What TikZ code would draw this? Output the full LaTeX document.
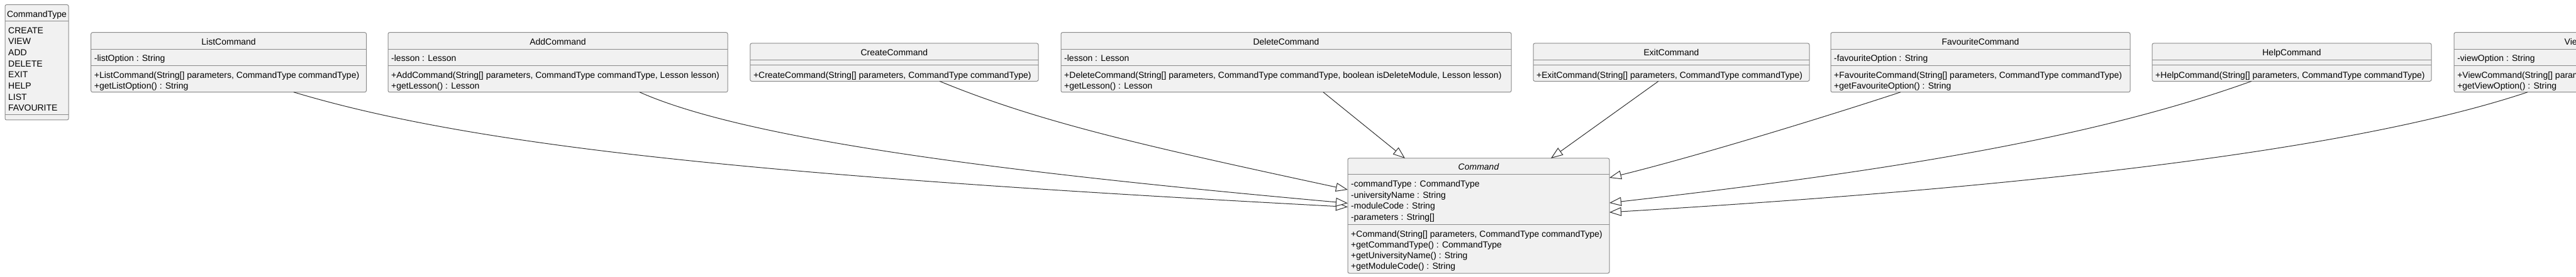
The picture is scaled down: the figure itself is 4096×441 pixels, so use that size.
\documentclass[tikz,border=0pt]{standalone}
\usepackage{fontspec}
\setmainfont{Liberation Sans}
\usetikzlibrary{arrows.meta}
\definecolor{boxfill}{HTML}{F1F1F1}
\definecolor{boxline}{HTML}{8A8A8A}
\definecolor{conn}{HTML}{303030}
\newcommand\umlfont{\fontsize{14bp}{17bp}\selectfont}
\begin{document}
\begin{tikzpicture}[x=1bp,y=-1bp,
  cbox/.style={draw=boxline, fill=boxfill, line width=1bp, rounded corners=2.5bp, inner sep=0pt, outer sep=0pt, anchor=north west},
  sepline/.style={draw=boxline, line width=1bp},
  txt/.style={anchor=base west, inner sep=0pt, font=\umlfont},
  ttl/.style={anchor=base, inner sep=0pt, font=\umlfont},
  gen/.style={draw=conn, line width=1bp, -{Triangle[length=19bp,width=14bp,fill=white]}}
]
\useasboundingbox (0,0) rectangle (4096,441);
\clip (0,0) rectangle (4096,441);

% ---------- CommandType ----------
\node[cbox, minimum width=101bp, minimum height=183.5bp] (ct) at (8,7.5) {};
\node[ttl] (ct-t) at (58.5,27.7) {CommandType};
\draw[sepline] (8,34) -- ++(101,0);
\node[txt] (ct-1) at (13,53.3) {CREATE};
\node[txt] (ct-2) at (13,71) {VIEW};
\node[txt] (ct-3) at (13,88.7) {ADD};
\node[txt] (ct-4) at (13,106.3) {DELETE};
\node[txt] (ct-5) at (13,124) {EXIT};
\node[txt] (ct-6) at (13,141.7) {HELP};
\node[txt] (ct-7) at (13,159.3) {LIST};
\node[txt] (ct-8) at (13,177) {FAVOURITE};
\draw[sepline] (8,183) -- ++(101,0);

% ---------- ListCommand ----------
\node[cbox, minimum width=437.8bp, minimum height=95bp] (list) at (144.7,51.7) {};
\node[ttl] (list-t) at (363.6,71.7) {ListCommand};
\draw[sepline] (144.7,78.7) -- ++(437.8,0);
\node[txt] (list-a) at (149.7,97.7) {-listOption : String};
\draw[sepline] (144.7,104.3) -- ++(437.8,0);
\node[txt] (list-m1) at (149.7,124.3) {+ListCommand(String[] parameters, CommandType commandType)};
\node[txt] (list-m2) at (149.7,141.3) {+getListOption() : String};

% ---------- AddCommand ----------
\node[cbox, minimum width=540bp, minimum height=95bp] (add) at (617,51.7) {};
\node[ttl] (add-t) at (887,71.7) {AddCommand};
\draw[sepline] (617,78.7) -- ++(540,0);
\node[txt] (add-a) at (622,97.7) {-lesson : Lesson};
\draw[sepline] (617,104.3) -- ++(540,0);
\node[txt] (add-m1) at (622,124.3) {+AddCommand(String[] parameters, CommandType commandType, Lesson lesson)};
\node[txt] (add-m2) at (622,141.3) {+getLesson() : Lesson};

% ---------- CreateCommand ----------
\node[cbox, minimum width=458.2bp, minimum height=60.3bp] (create) at (1192.8,69) {};
\node[ttl] (create-t) at (1421.9,88.3) {CreateCommand};
\draw[sepline] (1192.8,96) -- ++(458.2,0);
\draw[sepline] (1192.8,104) -- ++(458.2,0);
\node[txt] (create-m1) at (1197.8,125) {+CreateCommand(String[] parameters, CommandType commandType)};

% ---------- DeleteCommand ----------
\node[cbox, minimum width=716bp, minimum height=95bp] (delete) at (1687,51.7) {};
\node[ttl] (delete-t) at (2045,71.7) {DeleteCommand};
\draw[sepline] (1687,78.7) -- ++(716,0);
\node[txt] (delete-a) at (1692,97.7) {-lesson : Lesson};
\draw[sepline] (1687,104.3) -- ++(716,0);
\node[txt] (delete-m1) at (1692,124.3) {+DeleteCommand(String[] parameters, CommandType commandType, boolean isDeleteModule, Lesson lesson)};
\node[txt] (delete-m2) at (1692,141.3) {+getLesson() : Lesson};

% ---------- ExitCommand ----------
\node[cbox, minimum width=439bp, minimum height=60.3bp] (exit) at (2438,69) {};
\node[ttl] (exit-t) at (2657.5,88.3) {ExitCommand};
\draw[sepline] (2438,96) -- ++(439,0);
\draw[sepline] (2438,104) -- ++(439,0);
\node[txt] (exit-m1) at (2443,125) {+ExitCommand(String[] parameters, CommandType commandType)};

% ---------- FavouriteCommand ----------
\node[cbox, minimum width=476bp, minimum height=95bp] (fav) at (2911,51.7) {};
\node[ttl] (fav-t) at (3149,71.7) {FavouriteCommand};
\draw[sepline] (2911,78.7) -- ++(476,0);
\node[txt] (fav-a) at (2916,97.7) {-favouriteOption : String};
\draw[sepline] (2911,104.3) -- ++(476,0);
\node[txt] (fav-m1) at (2916,124.3) {+FavouriteCommand(String[] parameters, CommandType commandType)};
\node[txt] (fav-m2) at (2916,141.3) {+getFavouriteOption() : String};

% ---------- HelpCommand ----------
\node[cbox, minimum width=444bp, minimum height=60.3bp] (help) at (3422,69) {};
\node[ttl] (help-t) at (3644,88.3) {HelpCommand};
\draw[sepline] (3422,96) -- ++(444,0);
\draw[sepline] (3422,104) -- ++(444,0);
\node[txt] (help-m1) at (3427,125) {+HelpCommand(String[] parameters, CommandType commandType)};

% ---------- ViewCommand (cut by the edge) ----------
\node[cbox, minimum width=446bp, minimum height=95bp] (view) at (3902,51.7) {};
\node[ttl] (view-t) at (4125,71.7) {ViewCommand};
\draw[sepline] (3902,78.7) -- ++(446,0);
\node[txt] (view-a) at (3907,97.7) {-viewOption : String};
\draw[sepline] (3902,104.3) -- ++(446,0);
\node[txt] (view-m1) at (3907,124.3) {+ViewCommand(String[] parameters, CommandType commandType)};
\node[txt] (view-m2) at (3907,141.3) {+getViewOption() : String};

% ---------- Command (abstract) ----------
\node[cbox, minimum width=416bp, minimum height=183bp] (cmd) at (2143,252) {};
\node[ttl] (cmd-t) at (2351,271) {\itshape Command};
\draw[sepline] (2143,277.7) -- ++(416,0);
\node[txt] (cmd-a1) at (2148,297.7) {-commandType : CommandType};
\node[txt] (cmd-a2) at (2148,315.5) {-universityName : String};
\node[txt] (cmd-a3) at (2148,332.7) {-moduleCode : String};
\node[txt] (cmd-a4) at (2148,350.3) {-parameters : String[]};
\draw[sepline] (2143,357.3) -- ++(416,0);
\node[txt] (cmd-m1) at (2148,377.7) {+Command(String[] parameters, CommandType commandType)};
\node[txt] (cmd-m2) at (2148,394.5) {+getCommandType() : CommandType};
\node[txt] (cmd-m3) at (2148,411.2) {+getUniversityName() : String};
\node[txt] (cmd-m4) at (2148,428.3) {+getModuleCode() : String};

% ---------- generalisations ----------
\draw[gen] ([xshift=322.3bp]list.south west) .. controls (767,237) and (1243,281.5) .. ([yshift=-77.5bp]cmd.north west);
\draw[gen] ([xshift=400bp]add.south west) .. controls (1197,227) and (1643,278.5) .. ([yshift=-71.5bp]cmd.north west);
\draw[gen] ([xshift=301.2bp]create.south west) .. controls (1654,195.3) and (1823,233) .. ([yshift=-50bp]cmd.north west);
\draw[gen] ([xshift=417bp]delete.south west) -- ([xshift=91bp]cmd.north west);
\draw[gen] ([xshift=199bp]exit.south west) -- ([xshift=323bp]cmd.north west);
\draw[gen] ([xshift=111bp]fav.south west) .. controls (2922,179.7) and (2709,246) .. ([yshift=-31bp]cmd.north east);
\draw[gen] ([xshift=158bp]help.south west) .. controls (3330,219.3) and (3009,272) .. ([yshift=-71bp]cmd.north east);
\draw[gen] ([xshift=117bp]view.south west) .. controls (3719,246.7) and (3159,302) .. ([yshift=-86bp]cmd.north east);
\end{tikzpicture}
\end{document}
